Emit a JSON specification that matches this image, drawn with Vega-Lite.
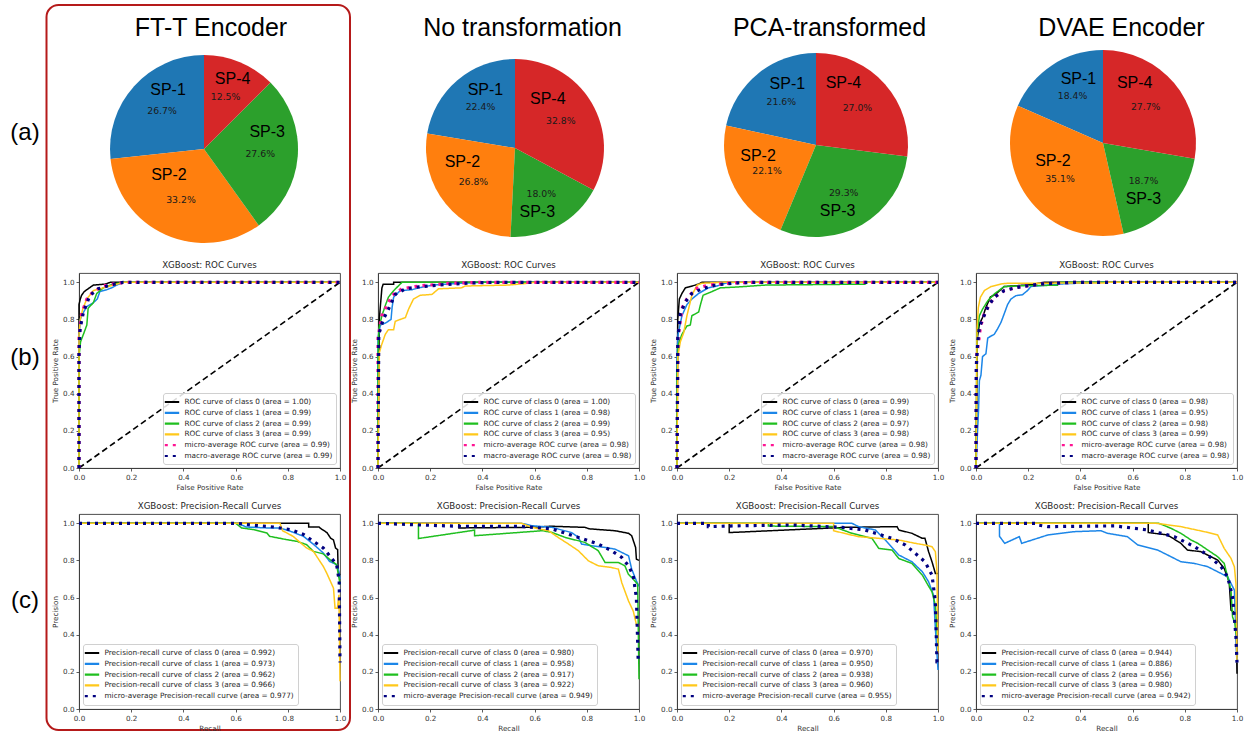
{
"$schema": "https://vega.github.io/schema/vega-lite/v6.json",
"background": "white",
"padding": {"left": 10, "top": 3, "right": 2, "bottom": 0},
"config": {
  "view": {"stroke": "#3a3a3a", "strokeWidth": 0.9},
  "axis": {"grid": false, "labelFont": "DejaVu Sans", "labelFontSize": 7.2, "labelColor": "#333333", "tickColor": "#333333", "tickSize": 3, "tickWidth": 0.8, "labelPadding": 2, "domainColor": "#3a3a3a", "domainWidth": 0.9, "titleFont": "DejaVu Sans", "titleFontSize": 7.2, "titleFontWeight": "normal", "titleColor": "#333333", "titlePadding": 3, "labelFlush": false, "labelOverlap": false},
  "title": {"font": "DejaVu Sans", "fontSize": 8.7, "fontWeight": "normal", "color": "#262626", "offset": 3.5, "baseline": "alphabetic", "frame": "group", "anchor": "middle"},
  "legend": {"labelFont": "DejaVu Sans", "labelFontSize": 7.3, "labelColor": "#262626", "labelLimit": 400, "symbolStrokeWidth": 2.2, "padding": 3.5, "rowPadding": 0.8, "fillColor": "rgba(255,255,255,0.85)", "strokeColor": "#d0d0d0", "cornerRadius": 2.5, "offset": 4}
},
"datasets": {
  "pie1": [{"slice":"SP-1","pct":26.7,"label":"26.7%"},{"slice":"SP-2","pct":33.2,"label":"33.2%"},{"slice":"SP-3","pct":27.6,"label":"27.6%"},{"slice":"SP-4","pct":12.5,"label":"12.5%"}],
  "pie2": [{"slice":"SP-1","pct":22.4,"label":"22.4%"},{"slice":"SP-2","pct":26.8,"label":"26.8%"},{"slice":"SP-3","pct":18.0,"label":"18.0%"},{"slice":"SP-4","pct":32.8,"label":"32.8%"}],
  "pie3": [{"slice":"SP-1","pct":21.6,"label":"21.6%"},{"slice":"SP-2","pct":22.1,"label":"22.1%"},{"slice":"SP-3","pct":29.3,"label":"29.3%"},{"slice":"SP-4","pct":27.0,"label":"27.0%"}],
  "pie4": [{"slice":"SP-1","pct":18.4,"label":"18.4%"},{"slice":"SP-2","pct":35.1,"label":"35.1%"},{"slice":"SP-3","pct":18.7,"label":"18.7%"},{"slice":"SP-4","pct":27.7,"label":"27.7%"}],
  "diag": [{"x":0,"y":0},{"x":1,"y":1}],
  "roc1": [
    {"s":"c0","x":0,"y":0},{"s":"c0","x":0,"y":0.88},{"s":"c0","x":0.005,"y":0.91},{"s":"c0","x":0.01,"y":0.93},{"s":"c0","x":0.02,"y":0.95},{"s":"c0","x":0.03,"y":0.96},{"s":"c0","x":0.045,"y":0.975},{"s":"c0","x":0.055,"y":0.985},{"s":"c0","x":0.1,"y":0.99},{"s":"c0","x":0.12,"y":1},{"s":"c0","x":1,"y":1},
    {"s":"c1","x":0,"y":0},{"s":"c1","x":0,"y":0.7},{"s":"c1","x":0.005,"y":0.8},{"s":"c1","x":0.01,"y":0.82},{"s":"c1","x":0.03,"y":0.87},{"s":"c1","x":0.055,"y":0.89},{"s":"c1","x":0.07,"y":0.91},{"s":"c1","x":0.08,"y":0.95},{"s":"c1","x":0.106,"y":0.96},{"s":"c1","x":0.125,"y":0.97},{"s":"c1","x":0.145,"y":0.985},{"s":"c1","x":0.17,"y":1},{"s":"c1","x":1,"y":1},
    {"s":"c2","x":0,"y":0},{"s":"c2","x":0,"y":0.6},{"s":"c2","x":0.006,"y":0.68},{"s":"c2","x":0.017,"y":0.72},{"s":"c2","x":0.03,"y":0.77},{"s":"c2","x":0.035,"y":0.86},{"s":"c2","x":0.055,"y":0.89},{"s":"c2","x":0.068,"y":0.94},{"s":"c2","x":0.093,"y":0.97},{"s":"c2","x":0.13,"y":0.99},{"s":"c2","x":0.17,"y":1},{"s":"c2","x":1,"y":1},
    {"s":"c3","x":0,"y":0},{"s":"c3","x":0,"y":0.72},{"s":"c3","x":0.005,"y":0.8},{"s":"c3","x":0.015,"y":0.86},{"s":"c3","x":0.03,"y":0.91},{"s":"c3","x":0.055,"y":0.955},{"s":"c3","x":0.093,"y":0.97},{"s":"c3","x":0.145,"y":0.99},{"s":"c3","x":0.17,"y":1},{"s":"c3","x":1,"y":1},
    {"s":"mi","x":0,"y":0},{"s":"mi","x":0,"y":0.7},{"s":"mi","x":0.01,"y":0.83},{"s":"mi","x":0.03,"y":0.91},{"s":"mi","x":0.055,"y":0.95},{"s":"mi","x":0.093,"y":0.98},{"s":"mi","x":0.145,"y":0.995},{"s":"mi","x":0.18,"y":1},{"s":"mi","x":1,"y":1},
    {"s":"ma","x":0,"y":0},{"s":"ma","x":0,"y":0.62},{"s":"ma","x":0.004,"y":0.75},{"s":"ma","x":0.017,"y":0.84},{"s":"ma","x":0.042,"y":0.93},{"s":"ma","x":0.074,"y":0.965},{"s":"ma","x":0.12,"y":0.985},{"s":"ma","x":0.17,"y":1},{"s":"ma","x":1,"y":1}
  ],
  "roc2": [
    {"s":"c0","x":0,"y":0},{"s":"c0","x":0.005,"y":0.8},{"s":"c0","x":0.009,"y":0.87},{"s":"c0","x":0.015,"y":0.97},{"s":"c0","x":0.02,"y":0.99},{"s":"c0","x":0.06,"y":0.99},{"s":"c0","x":0.06,"y":1},{"s":"c0","x":1,"y":1},
    {"s":"c1","x":0,"y":0},{"s":"c1","x":0,"y":0.7},{"s":"c1","x":0.009,"y":0.77},{"s":"c1","x":0.028,"y":0.78},{"s":"c1","x":0.05,"y":0.8},{"s":"c1","x":0.054,"y":0.865},{"s":"c1","x":0.06,"y":0.92},{"s":"c1","x":0.085,"y":0.955},{"s":"c1","x":0.13,"y":0.96},{"s":"c1","x":0.156,"y":0.97},{"s":"c1","x":0.21,"y":0.985},{"s":"c1","x":0.32,"y":0.995},{"s":"c1","x":0.41,"y":1},{"s":"c1","x":1,"y":1},
    {"s":"c2","x":0,"y":0},{"s":"c2","x":0,"y":0.6},{"s":"c2","x":0.003,"y":0.75},{"s":"c2","x":0.015,"y":0.82},{"s":"c2","x":0.028,"y":0.875},{"s":"c2","x":0.04,"y":0.92},{"s":"c2","x":0.06,"y":0.955},{"s":"c2","x":0.092,"y":1},{"s":"c2","x":1,"y":1},
    {"s":"c3","x":0,"y":0},{"s":"c3","x":0.003,"y":0.4},{"s":"c3","x":0.005,"y":0.62},{"s":"c3","x":0.013,"y":0.66},{"s":"c3","x":0.028,"y":0.72},{"s":"c3","x":0.04,"y":0.745},{"s":"c3","x":0.06,"y":0.745},{"s":"c3","x":0.066,"y":0.79},{"s":"c3","x":0.085,"y":0.8},{"s":"c3","x":0.105,"y":0.81},{"s":"c3","x":0.117,"y":0.855},{"s":"c3","x":0.136,"y":0.91},{"s":"c3","x":0.162,"y":0.93},{"s":"c3","x":0.207,"y":0.935},{"s":"c3","x":0.232,"y":0.965},{"s":"c3","x":0.32,"y":0.97},{"s":"c3","x":0.334,"y":0.98},{"s":"c3","x":0.5,"y":0.985},{"s":"c3","x":0.576,"y":0.995},{"s":"c3","x":0.6,"y":1},{"s":"c3","x":1,"y":1},
    {"s":"mi","x":0,"y":0},{"s":"mi","x":0,"y":0.7},{"s":"mi","x":0.015,"y":0.82},{"s":"mi","x":0.034,"y":0.875},{"s":"mi","x":0.054,"y":0.93},{"s":"mi","x":0.092,"y":0.965},{"s":"mi","x":0.156,"y":0.98},{"s":"mi","x":0.283,"y":0.995},{"s":"mi","x":0.4,"y":1},{"s":"mi","x":1,"y":1},
    {"s":"ma","x":0,"y":0},{"s":"ma","x":0.003,"y":0.72},{"s":"ma","x":0.02,"y":0.8},{"s":"ma","x":0.04,"y":0.855},{"s":"ma","x":0.066,"y":0.935},{"s":"ma","x":0.105,"y":0.965},{"s":"ma","x":0.156,"y":0.975},{"s":"ma","x":0.23,"y":0.985},{"s":"ma","x":0.347,"y":0.996},{"s":"ma","x":0.45,"y":1},{"s":"ma","x":1,"y":1}
  ],
  "roc3": [
    {"s":"c0","x":0,"y":0},{"s":"c0","x":0.003,"y":0.8},{"s":"c0","x":0.009,"y":0.91},{"s":"c0","x":0.019,"y":0.94},{"s":"c0","x":0.032,"y":0.97},{"s":"c0","x":0.045,"y":0.975},{"s":"c0","x":0.083,"y":0.99},{"s":"c0","x":0.096,"y":1},{"s":"c0","x":1,"y":1},
    {"s":"c1","x":0,"y":0},{"s":"c1","x":0,"y":0.6},{"s":"c1","x":0.004,"y":0.72},{"s":"c1","x":0.019,"y":0.82},{"s":"c1","x":0.038,"y":0.88},{"s":"c1","x":0.057,"y":0.91},{"s":"c1","x":0.083,"y":0.94},{"s":"c1","x":0.12,"y":0.97},{"s":"c1","x":0.153,"y":0.98},{"s":"c1","x":0.185,"y":0.995},{"s":"c1","x":0.22,"y":1},{"s":"c1","x":1,"y":1},
    {"s":"c2","x":0,"y":0},{"s":"c2","x":0,"y":0.5},{"s":"c2","x":0.004,"y":0.66},{"s":"c2","x":0.019,"y":0.72},{"s":"c2","x":0.038,"y":0.765},{"s":"c2","x":0.051,"y":0.77},{"s":"c2","x":0.057,"y":0.82},{"s":"c2","x":0.083,"y":0.84},{"s":"c2","x":0.09,"y":0.88},{"s":"c2","x":0.1,"y":0.93},{"s":"c2","x":0.134,"y":0.95},{"s":"c2","x":0.166,"y":0.97},{"s":"c2","x":0.236,"y":0.975},{"s":"c2","x":0.338,"y":0.985},{"s":"c2","x":0.72,"y":0.99},{"s":"c2","x":0.73,"y":1},{"s":"c2","x":1,"y":1},
    {"s":"c3","x":0,"y":0},{"s":"c3","x":0.003,"y":0.6},{"s":"c3","x":0.013,"y":0.68},{"s":"c3","x":0.026,"y":0.73},{"s":"c3","x":0.038,"y":0.82},{"s":"c3","x":0.057,"y":0.93},{"s":"c3","x":0.077,"y":0.985},{"s":"c3","x":0.096,"y":0.995},{"s":"c3","x":0.18,"y":1},{"s":"c3","x":1,"y":1},
    {"s":"mi","x":0,"y":0},{"s":"mi","x":0.004,"y":0.7},{"s":"mi","x":0.019,"y":0.86},{"s":"mi","x":0.038,"y":0.91},{"s":"mi","x":0.07,"y":0.965},{"s":"mi","x":0.12,"y":0.985},{"s":"mi","x":0.21,"y":0.996},{"s":"mi","x":0.3,"y":1},{"s":"mi","x":1,"y":1},
    {"s":"ma","x":0,"y":0},{"s":"ma","x":0.003,"y":0.7},{"s":"ma","x":0.013,"y":0.83},{"s":"ma","x":0.032,"y":0.895},{"s":"ma","x":0.057,"y":0.94},{"s":"ma","x":0.096,"y":0.965},{"s":"ma","x":0.147,"y":0.985},{"s":"ma","x":0.22,"y":0.996},{"s":"ma","x":0.3,"y":1},{"s":"ma","x":1,"y":1}
  ],
  "roc4": [
    {"s":"c0","x":0,"y":0},{"s":"c0","x":0.005,"y":0.7},{"s":"c0","x":0.013,"y":0.775},{"s":"c0","x":0.025,"y":0.81},{"s":"c0","x":0.038,"y":0.865},{"s":"c0","x":0.055,"y":0.92},{"s":"c0","x":0.076,"y":0.937},{"s":"c0","x":0.108,"y":0.977},{"s":"c0","x":0.21,"y":0.987},{"s":"c0","x":0.26,"y":1},{"s":"c0","x":1,"y":1},
    {"s":"c1","x":0,"y":0},{"s":"c1","x":0.003,"y":0.1},{"s":"c1","x":0.006,"y":0.2},{"s":"c1","x":0.01,"y":0.32},{"s":"c1","x":0.013,"y":0.47},{"s":"c1","x":0.019,"y":0.5},{"s":"c1","x":0.025,"y":0.6},{"s":"c1","x":0.038,"y":0.615},{"s":"c1","x":0.045,"y":0.7},{"s":"c1","x":0.057,"y":0.71},{"s":"c1","x":0.07,"y":0.72},{"s":"c1","x":0.083,"y":0.75},{"s":"c1","x":0.096,"y":0.785},{"s":"c1","x":0.108,"y":0.83},{"s":"c1","x":0.121,"y":0.88},{"s":"c1","x":0.134,"y":0.91},{"s":"c1","x":0.153,"y":0.928},{"s":"c1","x":0.178,"y":0.933},{"s":"c1","x":0.197,"y":0.955},{"s":"c1","x":0.21,"y":0.977},{"s":"c1","x":0.248,"y":0.982},{"s":"c1","x":0.325,"y":0.991},{"s":"c1","x":0.48,"y":1},{"s":"c1","x":1,"y":1},
    {"s":"c2","x":0,"y":0},{"s":"c2","x":0.004,"y":0.72},{"s":"c2","x":0.013,"y":0.82},{"s":"c2","x":0.025,"y":0.855},{"s":"c2","x":0.045,"y":0.9},{"s":"c2","x":0.07,"y":0.937},{"s":"c2","x":0.108,"y":0.977},{"s":"c2","x":0.185,"y":0.982},{"s":"c2","x":0.312,"y":0.984},{"s":"c2","x":0.32,"y":1},{"s":"c2","x":1,"y":1},
    {"s":"c3","x":0,"y":0},{"s":"c3","x":0.004,"y":0.75},{"s":"c3","x":0.009,"y":0.865},{"s":"c3","x":0.017,"y":0.92},{"s":"c3","x":0.032,"y":0.955},{"s":"c3","x":0.057,"y":0.977},{"s":"c3","x":0.096,"y":0.991},{"s":"c3","x":0.121,"y":0.995},{"s":"c3","x":0.49,"y":0.996},{"s":"c3","x":0.5,"y":1},{"s":"c3","x":1,"y":1},
    {"s":"mi","x":0,"y":0},{"s":"mi","x":0.002,"y":0.6},{"s":"mi","x":0.009,"y":0.667},{"s":"mi","x":0.017,"y":0.76},{"s":"mi","x":0.032,"y":0.83},{"s":"mi","x":0.051,"y":0.88},{"s":"mi","x":0.07,"y":0.92},{"s":"mi","x":0.108,"y":0.955},{"s":"mi","x":0.159,"y":0.973},{"s":"mi","x":0.248,"y":0.991},{"s":"mi","x":0.376,"y":1},{"s":"mi","x":1,"y":1},
    {"s":"ma","x":0,"y":0},{"s":"ma","x":0.001,"y":0.54},{"s":"ma","x":0.006,"y":0.667},{"s":"ma","x":0.013,"y":0.76},{"s":"ma","x":0.025,"y":0.8},{"s":"ma","x":0.045,"y":0.865},{"s":"ma","x":0.07,"y":0.92},{"s":"ma","x":0.108,"y":0.955},{"s":"ma","x":0.159,"y":0.973},{"s":"ma","x":0.248,"y":0.991},{"s":"ma","x":0.376,"y":1},{"s":"ma","x":1,"y":1}
  ],
  "pr1": [
    {"s":"c0","x":0,"y":1},{"s":"c0","x":0.88,"y":1},{"s":"c0","x":0.88,"y":0.98},{"s":"c0","x":0.92,"y":0.98},{"s":"c0","x":0.923,"y":0.975},{"s":"c0","x":0.95,"y":0.95},{"s":"c0","x":0.964,"y":0.92},{"s":"c0","x":0.975,"y":0.91},{"s":"c0","x":0.983,"y":0.867},{"s":"c0","x":0.991,"y":0.858},{"s":"c0","x":0.993,"y":0.74},{"s":"c0","x":1,"y":0.72},
    {"s":"c1","x":0,"y":1},{"s":"c1","x":0.61,"y":1},{"s":"c1","x":0.64,"y":0.98},{"s":"c1","x":0.72,"y":0.975},{"s":"c1","x":0.77,"y":0.975},{"s":"c1","x":0.81,"y":0.957},{"s":"c1","x":0.86,"y":0.93},{"s":"c1","x":0.9,"y":0.885},{"s":"c1","x":0.936,"y":0.84},{"s":"c1","x":0.96,"y":0.795},{"s":"c1","x":0.987,"y":0.777},{"s":"c1","x":0.996,"y":0.74},{"s":"c1","x":1,"y":0.7},
    {"s":"c2","x":0,"y":1},{"s":"c2","x":0.6,"y":1},{"s":"c2","x":0.623,"y":0.975},{"s":"c2","x":0.668,"y":0.966},{"s":"c2","x":0.72,"y":0.948},{"s":"c2","x":0.73,"y":0.93},{"s":"c2","x":0.795,"y":0.912},{"s":"c2","x":0.834,"y":0.903},{"s":"c2","x":0.872,"y":0.885},{"s":"c2","x":0.898,"y":0.849},{"s":"c2","x":0.936,"y":0.835},{"s":"c2","x":0.962,"y":0.804},{"s":"c2","x":0.987,"y":0.777},{"s":"c2","x":0.998,"y":0.69},{"s":"c2","x":1,"y":0.67},
    {"s":"c3","x":0,"y":1},{"s":"c3","x":0.77,"y":1},{"s":"c3","x":0.78,"y":0.96},{"s":"c3","x":0.82,"y":0.93},{"s":"c3","x":0.872,"y":0.867},{"s":"c3","x":0.898,"y":0.849},{"s":"c3","x":0.936,"y":0.768},{"s":"c3","x":0.949,"y":0.732},{"s":"c3","x":0.975,"y":0.651},{"s":"c3","x":0.981,"y":0.543},{"s":"c3","x":0.99,"y":0.543},{"s":"c3","x":0.996,"y":0.615},{"s":"c3","x":1,"y":0.15},
    {"s":"mi","x":0,"y":1},{"s":"mi","x":0.6,"y":1},{"s":"mi","x":0.668,"y":0.99},{"s":"mi","x":0.745,"y":0.98},{"s":"mi","x":0.81,"y":0.966},{"s":"mi","x":0.86,"y":0.94},{"s":"mi","x":0.898,"y":0.903},{"s":"mi","x":0.936,"y":0.867},{"s":"mi","x":0.962,"y":0.822},{"s":"mi","x":0.987,"y":0.777},{"s":"mi","x":0.997,"y":0.69},{"s":"mi","x":1,"y":0.25}
  ],
  "pr2": [
    {"s":"c0","x":0,"y":1},{"s":"c0","x":0.31,"y":1},{"s":"c0","x":0.31,"y":0.975},{"s":"c0","x":0.57,"y":0.978},{"s":"c0","x":0.666,"y":0.984},{"s":"c0","x":0.793,"y":0.978},{"s":"c0","x":0.81,"y":0.97},{"s":"c0","x":0.908,"y":0.96},{"s":"c0","x":0.96,"y":0.946},{"s":"c0","x":0.972,"y":0.933},{"s":"c0","x":0.987,"y":0.87},{"s":"c0","x":0.99,"y":0.807},{"s":"c0","x":1,"y":0.8},
    {"s":"c1","x":0,"y":1},{"s":"c1","x":0.55,"y":1},{"s":"c1","x":0.59,"y":0.987},{"s":"c1","x":0.666,"y":0.978},{"s":"c1","x":0.742,"y":0.95},{"s":"c1","x":0.768,"y":0.924},{"s":"c1","x":0.78,"y":0.888},{"s":"c1","x":0.819,"y":0.879},{"s":"c1","x":0.87,"y":0.87},{"s":"c1","x":0.908,"y":0.861},{"s":"c1","x":0.934,"y":0.843},{"s":"c1","x":0.96,"y":0.825},{"s":"c1","x":0.972,"y":0.753},{"s":"c1","x":0.99,"y":0.69},{"s":"c1","x":1,"y":0.66},
    {"s":"c2","x":0,"y":1},{"s":"c2","x":0.155,"y":1},{"s":"c2","x":0.155,"y":0.918},{"s":"c2","x":0.37,"y":0.963},{"s":"c2","x":0.37,"y":0.933},{"s":"c2","x":0.63,"y":0.96},{"s":"c2","x":0.666,"y":0.951},{"s":"c2","x":0.717,"y":0.924},{"s":"c2","x":0.793,"y":0.897},{"s":"c2","x":0.844,"y":0.852},{"s":"c2","x":0.87,"y":0.789},{"s":"c2","x":0.921,"y":0.789},{"s":"c2","x":0.946,"y":0.771},{"s":"c2","x":0.959,"y":0.726},{"s":"c2","x":0.972,"y":0.708},{"s":"c2","x":0.995,"y":0.671},{"s":"c2","x":1,"y":0.16},
    {"s":"c3","x":0,"y":1},{"s":"c3","x":0.55,"y":1},{"s":"c3","x":0.59,"y":0.978},{"s":"c3","x":0.653,"y":0.96},{"s":"c3","x":0.69,"y":0.924},{"s":"c3","x":0.73,"y":0.888},{"s":"c3","x":0.768,"y":0.852},{"s":"c3","x":0.806,"y":0.798},{"s":"c3","x":0.844,"y":0.771},{"s":"c3","x":0.895,"y":0.762},{"s":"c3","x":0.921,"y":0.753},{"s":"c3","x":0.934,"y":0.68},{"s":"c3","x":0.96,"y":0.581},{"s":"c3","x":0.978,"y":0.527},{"s":"c3","x":0.99,"y":0.455},{"s":"c3","x":1,"y":0.45},
    {"s":"mi","x":0,"y":1},{"s":"mi","x":0.18,"y":0.99},{"s":"mi","x":0.31,"y":0.984},{"s":"mi","x":0.54,"y":0.984},{"s":"mi","x":0.666,"y":0.97},{"s":"mi","x":0.768,"y":0.924},{"s":"mi","x":0.844,"y":0.888},{"s":"mi","x":0.895,"y":0.852},{"s":"mi","x":0.934,"y":0.816},{"s":"mi","x":0.96,"y":0.771},{"s":"mi","x":0.978,"y":0.717},{"s":"mi","x":0.99,"y":0.6},{"s":"mi","x":0.997,"y":0.256},{"s":"mi","x":1,"y":0.25}
  ],
  "pr3": [
    {"s":"c0","x":0,"y":1},{"s":"c0","x":0.2,"y":1},{"s":"c0","x":0.2,"y":0.95},{"s":"c0","x":0.645,"y":0.978},{"s":"c0","x":0.843,"y":0.982},{"s":"c0","x":0.85,"y":0.964},{"s":"c0","x":0.9,"y":0.946},{"s":"c0","x":0.94,"y":0.919},{"s":"c0","x":0.95,"y":0.919},{"s":"c0","x":0.964,"y":0.847},{"s":"c0","x":0.977,"y":0.793},{"s":"c0","x":0.99,"y":0.73},{"s":"c0","x":1,"y":0.73},
    {"s":"c1","x":0,"y":1},{"s":"c1","x":0.67,"y":1},{"s":"c1","x":0.696,"y":0.982},{"s":"c1","x":0.76,"y":0.964},{"s":"c1","x":0.798,"y":0.91},{"s":"c1","x":0.85,"y":0.829},{"s":"c1","x":0.9,"y":0.793},{"s":"c1","x":0.94,"y":0.739},{"s":"c1","x":0.964,"y":0.685},{"s":"c1","x":0.983,"y":0.613},{"s":"c1","x":0.99,"y":0.433},{"s":"c1","x":1,"y":0.21},
    {"s":"c2","x":0,"y":1},{"s":"c2","x":0.35,"y":1},{"s":"c2","x":0.35,"y":0.985},{"s":"c2","x":0.6,"y":0.982},{"s":"c2","x":0.67,"y":0.946},{"s":"c2","x":0.747,"y":0.919},{"s":"c2","x":0.773,"y":0.865},{"s":"c2","x":0.824,"y":0.856},{"s":"c2","x":0.85,"y":0.81},{"s":"c2","x":0.9,"y":0.784},{"s":"c2","x":0.94,"y":0.721},{"s":"c2","x":0.958,"y":0.676},{"s":"c2","x":0.977,"y":0.631},{"s":"c2","x":0.99,"y":0.559},{"s":"c2","x":1,"y":0.34},
    {"s":"c3","x":0,"y":1},{"s":"c3","x":0.6,"y":1},{"s":"c3","x":0.6,"y":0.96},{"s":"c3","x":0.658,"y":0.94},{"s":"c3","x":0.696,"y":0.928},{"s":"c3","x":0.773,"y":0.919},{"s":"c3","x":0.85,"y":0.91},{"s":"c3","x":0.913,"y":0.892},{"s":"c3","x":0.95,"y":0.883},{"s":"c3","x":0.977,"y":0.874},{"s":"c3","x":0.99,"y":0.847},{"s":"c3","x":0.996,"y":0.739},{"s":"c3","x":1,"y":0.3},
    {"s":"mi","x":0,"y":1},{"s":"mi","x":0.12,"y":1},{"s":"mi","x":0.12,"y":0.982},{"s":"mi","x":0.25,"y":0.987},{"s":"mi","x":0.44,"y":0.991},{"s":"mi","x":0.632,"y":0.978},{"s":"mi","x":0.72,"y":0.964},{"s":"mi","x":0.824,"y":0.919},{"s":"mi","x":0.875,"y":0.883},{"s":"mi","x":0.913,"y":0.838},{"s":"mi","x":0.95,"y":0.793},{"s":"mi","x":0.977,"y":0.721},{"s":"mi","x":0.99,"y":0.577},{"s":"mi","x":0.996,"y":0.252},{"s":"mi","x":1,"y":0.25}
  ],
  "pr4": [
    {"s":"c0","x":0,"y":1},{"s":"c0","x":0.66,"y":1},{"s":"c0","x":0.66,"y":0.95},{"s":"c0","x":0.734,"y":0.937},{"s":"c0","x":0.785,"y":0.892},{"s":"c0","x":0.81,"y":0.856},{"s":"c0","x":0.862,"y":0.847},{"s":"c0","x":0.9,"y":0.82},{"s":"c0","x":0.926,"y":0.802},{"s":"c0","x":0.951,"y":0.757},{"s":"c0","x":0.97,"y":0.685},{"s":"c0","x":0.977,"y":0.532},{"s":"c0","x":0.996,"y":0.514},{"s":"c0","x":1,"y":0.19},
    {"s":"c1","x":0,"y":1},{"s":"c1","x":0.09,"y":1},{"s":"c1","x":0.09,"y":0.93},{"s":"c1","x":0.11,"y":0.892},{"s":"c1","x":0.166,"y":0.928},{"s":"c1","x":0.175,"y":0.892},{"s":"c1","x":0.275,"y":0.937},{"s":"c1","x":0.377,"y":0.955},{"s":"c1","x":0.479,"y":0.96},{"s":"c1","x":0.504,"y":0.946},{"s":"c1","x":0.58,"y":0.928},{"s":"c1","x":0.62,"y":0.883},{"s":"c1","x":0.696,"y":0.856},{"s":"c1","x":0.747,"y":0.82},{"s":"c1","x":0.785,"y":0.793},{"s":"c1","x":0.837,"y":0.784},{"s":"c1","x":0.888,"y":0.766},{"s":"c1","x":0.926,"y":0.739},{"s":"c1","x":0.964,"y":0.712},{"s":"c1","x":0.977,"y":0.676},{"s":"c1","x":0.99,"y":0.64},{"s":"c1","x":1,"y":0.25},
    {"s":"c2","x":0,"y":1},{"s":"c2","x":0.7,"y":1},{"s":"c2","x":0.747,"y":0.973},{"s":"c2","x":0.785,"y":0.946},{"s":"c2","x":0.824,"y":0.91},{"s":"c2","x":0.85,"y":0.892},{"s":"c2","x":0.888,"y":0.856},{"s":"c2","x":0.926,"y":0.82},{"s":"c2","x":0.951,"y":0.784},{"s":"c2","x":0.964,"y":0.712},{"s":"c2","x":0.977,"y":0.64},{"s":"c2","x":0.983,"y":0.496},{"s":"c2","x":0.992,"y":0.46},{"s":"c2","x":0.996,"y":0.406},{"s":"c2","x":1,"y":0.4},
    {"s":"c3","x":0,"y":1},{"s":"c3","x":0.69,"y":1},{"s":"c3","x":0.785,"y":0.982},{"s":"c3","x":0.875,"y":0.955},{"s":"c3","x":0.926,"y":0.937},{"s":"c3","x":0.951,"y":0.865},{"s":"c3","x":0.977,"y":0.811},{"s":"c3","x":0.99,"y":0.766},{"s":"c3","x":0.996,"y":0.676},{"s":"c3","x":1,"y":0.25},
    {"s":"mi","x":0,"y":1},{"s":"mi","x":0.23,"y":1},{"s":"mi","x":0.236,"y":0.991},{"s":"mi","x":0.275,"y":0.982},{"s":"mi","x":0.53,"y":0.986},{"s":"mi","x":0.607,"y":0.973},{"s":"mi","x":0.658,"y":0.964},{"s":"mi","x":0.76,"y":0.928},{"s":"mi","x":0.837,"y":0.874},{"s":"mi","x":0.888,"y":0.829},{"s":"mi","x":0.939,"y":0.766},{"s":"mi","x":0.964,"y":0.712},{"s":"mi","x":0.983,"y":0.604},{"s":"mi","x":0.996,"y":0.388},{"s":"mi","x":1,"y":0.25}
  ]
},
"columns": 4,
"spacing": {"row": 46, "column": 38},
"bounds": "flush",
"align": "none",
"resolve": {"scale": {"color": "independent", "strokeDash": "independent"}, "legend": {"color": "independent", "strokeDash": "independent"}},
"concat": [
  {
    "width": 261, "height": 158, "view": {"stroke": null},
    "layer": [
      {"data": {"name": "pie1"}, "mark": {"type": "arc", "outerRadius": 94},
       "encoding": {"x": {"datum": 0.47893, "type": "quantitative", "scale": {"domain": [0, 1]}, "axis": {"orient": "top", "title": "FT-T Encoder", "domain": false, "ticks": false, "labels": false, "grid": false, "titleFont": "Liberation Sans", "titleFontSize": 25, "titleFontWeight": "normal", "titleColor": "black", "titleBaseline": "alphabetic", "titleX": 131.5, "titleY": -34}}, "y": {"datum": 0.49367, "type": "quantitative", "scale": {"domain": [0, 1]}, "axis": null},
         "theta": {"field": "pct", "type": "quantitative", "stack": true}, "order": {"field": "slice", "sort": "descending"},
         "color": {"field": "slice", "type": "nominal", "scale": {"domain": ["SP-1","SP-2","SP-3","SP-4"], "range": ["#1f77b4","#ff7f0e","#2ca02c","#d62728"]}, "legend": null}}},
      {"data": {"name": "pie1"}, "mark": {"type": "text", "radius": 56.4, "font": "DejaVu Sans", "fontSize": 9.3, "color": "#1a1a1a"},
       "encoding": {"x": {"datum": 0.47893, "type": "quantitative", "scale": {"domain": [0, 1]}, "axis": {"orient": "top", "title": "FT-T Encoder", "domain": false, "ticks": false, "labels": false, "grid": false, "titleFont": "Liberation Sans", "titleFontSize": 25, "titleFontWeight": "normal", "titleColor": "black", "titleBaseline": "alphabetic", "titleX": 131.5, "titleY": -34}}, "y": {"datum": 0.49367, "type": "quantitative", "scale": {"domain": [0, 1]}, "axis": null},
         "theta": {"field": "pct", "type": "quantitative", "stack": true}, "order": {"field": "slice", "sort": "descending"}, "text": {"field": "label", "type": "nominal"}}},
      {"data": {"name": "pie1"}, "mark": {"type": "text", "radius": 56.4, "dx": 6, "dy": -21, "font": "Liberation Sans", "fontSize": 16, "color": "black"},
       "encoding": {"x": {"datum": 0.47893, "type": "quantitative", "scale": {"domain": [0, 1]}, "axis": {"orient": "top", "title": "FT-T Encoder", "domain": false, "ticks": false, "labels": false, "grid": false, "titleFont": "Liberation Sans", "titleFontSize": 25, "titleFontWeight": "normal", "titleColor": "black", "titleBaseline": "alphabetic", "titleX": 131.5, "titleY": -34}}, "y": {"datum": 0.49367, "type": "quantitative", "scale": {"domain": [0, 1]}, "axis": null},
         "theta": {"field": "pct", "type": "quantitative", "stack": true}, "order": {"field": "slice", "sort": "descending"}, "text": {"condition": {"test": "datum.slice === 'SP-1'", "field": "slice", "type": "nominal"}, "value": ""}}},
      {"data": {"name": "pie1"}, "mark": {"type": "text", "radius": 56.4, "dx": -12, "dy": -25, "font": "Liberation Sans", "fontSize": 16, "color": "black"},
       "encoding": {"x": {"datum": 0.47893, "type": "quantitative", "scale": {"domain": [0, 1]}, "axis": {"orient": "top", "title": "FT-T Encoder", "domain": false, "ticks": false, "labels": false, "grid": false, "titleFont": "Liberation Sans", "titleFontSize": 25, "titleFontWeight": "normal", "titleColor": "black", "titleBaseline": "alphabetic", "titleX": 131.5, "titleY": -34}}, "y": {"datum": 0.49367, "type": "quantitative", "scale": {"domain": [0, 1]}, "axis": null},
         "theta": {"field": "pct", "type": "quantitative", "stack": true}, "order": {"field": "slice", "sort": "descending"}, "text": {"condition": {"test": "datum.slice === 'SP-2'", "field": "slice", "type": "nominal"}, "value": ""}}},
      {"data": {"name": "pie1"}, "mark": {"type": "text", "radius": 56.4, "dx": 7, "dy": -22, "font": "Liberation Sans", "fontSize": 16, "color": "black"},
       "encoding": {"x": {"datum": 0.47893, "type": "quantitative", "scale": {"domain": [0, 1]}, "axis": {"orient": "top", "title": "FT-T Encoder", "domain": false, "ticks": false, "labels": false, "grid": false, "titleFont": "Liberation Sans", "titleFontSize": 25, "titleFontWeight": "normal", "titleColor": "black", "titleBaseline": "alphabetic", "titleX": 131.5, "titleY": -34}}, "y": {"datum": 0.49367, "type": "quantitative", "scale": {"domain": [0, 1]}, "axis": null},
         "theta": {"field": "pct", "type": "quantitative", "stack": true}, "order": {"field": "slice", "sort": "descending"}, "text": {"condition": {"test": "datum.slice === 'SP-3'", "field": "slice", "type": "nominal"}, "value": ""}}},
      {"data": {"name": "pie1"}, "mark": {"type": "text", "radius": 56.4, "dx": 7, "dy": -18, "font": "Liberation Sans", "fontSize": 16, "color": "black"},
       "encoding": {"x": {"datum": 0.47893, "type": "quantitative", "scale": {"domain": [0, 1]}, "axis": {"orient": "top", "title": "FT-T Encoder", "domain": false, "ticks": false, "labels": false, "grid": false, "titleFont": "Liberation Sans", "titleFontSize": 25, "titleFontWeight": "normal", "titleColor": "black", "titleBaseline": "alphabetic", "titleX": 131.5, "titleY": -34}}, "y": {"datum": 0.49367, "type": "quantitative", "scale": {"domain": [0, 1]}, "axis": null},
         "theta": {"field": "pct", "type": "quantitative", "stack": true}, "order": {"field": "slice", "sort": "descending"}, "text": {"condition": {"test": "datum.slice === 'SP-4'", "field": "slice", "type": "nominal"}, "value": ""}}},
      {"data": {"values": [{}]}, "mark": {"type": "rect", "filled": false, "color": "#b51a1a", "strokeWidth": 2, "cornerRadius": 12},
       "encoding": {
         "x": {"datum": -0.12452, "type": "quantitative", "scale": {"domain": [0, 1]}, "axis": {"orient": "top", "title": "FT-T Encoder", "domain": false, "ticks": false, "labels": false, "grid": false, "titleFont": "Liberation Sans", "titleFontSize": 25, "titleFontWeight": "normal", "titleColor": "black", "titleBaseline": "alphabetic", "titleX": 131.5, "titleY": -34}},
         "x2": {"datum": 1.03831},
         "y": {"datum": 1.4051, "type": "quantitative", "scale": {"domain": [0, 1]}, "axis": null},
         "y2": {"datum": -3.1835}}},
      {"data": {"values": [{}]}, "mark": {"type": "text", "text": "(a)", "font": "Liberation Sans", "fontSize": 24, "color": "black", "baseline": "middle", "align": "center"},
       "encoding": {"x": {"datum": -0.2069, "type": "quantitative", "scale": {"domain": [0, 1]}, "axis": {"orient": "top", "title": "FT-T Encoder", "domain": false, "ticks": false, "labels": false, "grid": false, "titleFont": "Liberation Sans", "titleFontSize": 25, "titleFontWeight": "normal", "titleColor": "black", "titleBaseline": "alphabetic", "titleX": 131.5, "titleY": -34}}, "y": {"datum": 0.5949, "type": "quantitative", "scale": {"domain": [0, 1]}, "axis": null}}},
      {"data": {"values": [{}]}, "mark": {"type": "text", "text": "(b)", "font": "Liberation Sans", "fontSize": 24, "color": "black", "baseline": "middle", "align": "center"},
       "encoding": {"x": {"datum": -0.2069, "type": "quantitative", "scale": {"domain": [0, 1]}, "axis": {"orient": "top", "title": "FT-T Encoder", "domain": false, "ticks": false, "labels": false, "grid": false, "titleFont": "Liberation Sans", "titleFontSize": 25, "titleFontWeight": "normal", "titleColor": "black", "titleBaseline": "alphabetic", "titleX": 131.5, "titleY": -34}}, "y": {"datum": -0.8291, "type": "quantitative", "scale": {"domain": [0, 1]}, "axis": null}}},
      {"data": {"values": [{}]}, "mark": {"type": "text", "text": "(c)", "font": "Liberation Sans", "fontSize": 24, "color": "black", "baseline": "middle", "align": "center"},
       "encoding": {"x": {"datum": -0.2069, "type": "quantitative", "scale": {"domain": [0, 1]}, "axis": {"orient": "top", "title": "FT-T Encoder", "domain": false, "ticks": false, "labels": false, "grid": false, "titleFont": "Liberation Sans", "titleFontSize": 25, "titleFontWeight": "normal", "titleColor": "black", "titleBaseline": "alphabetic", "titleX": 131.5, "titleY": -34}}, "y": {"datum": -2.3671, "type": "quantitative", "scale": {"domain": [0, 1]}, "axis": null}}}
    ]
  },
  {
    "width": 261, "height": 158, "view": {"stroke": null},
    "data": {"name": "pie2"},
    "encoding": {
      "x": {"datum": 0.5249, "type": "quantitative", "scale": {"domain": [0, 1]}, "axis": {"orient": "top", "title": "No transformation", "domain": false, "ticks": false, "labels": false, "grid": false, "titleFont": "Liberation Sans", "titleFontSize": 25, "titleFontWeight": "normal", "titleColor": "black", "titleBaseline": "alphabetic", "titleX": 144, "titleY": -34}},
      "y": {"datum": 0.5, "type": "quantitative", "scale": {"domain": [0, 1]}, "axis": null},
      "theta": {"field": "pct", "type": "quantitative", "stack": true},
      "order": {"field": "slice", "sort": "descending"}
    },
    "layer": [
      {"mark": {"type": "arc", "outerRadius": 89},
       "encoding": {"color": {"field": "slice", "type": "nominal", "scale": {"domain": ["SP-1","SP-2","SP-3","SP-4"], "range": ["#1f77b4","#ff7f0e","#2ca02c","#d62728"]}, "legend": null}}},
      {"mark": {"type": "text", "radius": 53.4, "font": "DejaVu Sans", "fontSize": 9.3, "color": "#1a1a1a"}, "encoding": {"text": {"field": "label", "type": "nominal"}}},
      {"mark": {"type": "text", "radius": 53.4, "dx": 5, "dy": -17, "font": "Liberation Sans", "fontSize": 16, "color": "black"}, "encoding": {"text": {"condition": {"test": "datum.slice === 'SP-1'", "field": "slice", "type": "nominal"}, "value": ""}}},
      {"mark": {"type": "text", "radius": 53.4, "dx": -11, "dy": -20, "font": "Liberation Sans", "fontSize": 16, "color": "black"}, "encoding": {"text": {"condition": {"test": "datum.slice === 'SP-2'", "field": "slice", "type": "nominal"}, "value": ""}}},
      {"mark": {"type": "text", "radius": 53.4, "dx": -4, "dy": 18, "font": "Liberation Sans", "fontSize": 16, "color": "black"}, "encoding": {"text": {"condition": {"test": "datum.slice === 'SP-3'", "field": "slice", "type": "nominal"}, "value": ""}}},
      {"mark": {"type": "text", "radius": 53.4, "dx": -13, "dy": -22, "font": "Liberation Sans", "fontSize": 16, "color": "black"}, "encoding": {"text": {"condition": {"test": "datum.slice === 'SP-4'", "field": "slice", "type": "nominal"}, "value": ""}}}
    ]
  },
  {
    "width": 261, "height": 158, "view": {"stroke": null},
    "data": {"name": "pie3"},
    "encoding": {
      "x": {"datum": 0.53257, "type": "quantitative", "scale": {"domain": [0, 1]}, "axis": {"orient": "top", "title": "PCA-transformed", "domain": false, "ticks": false, "labels": false, "grid": false, "titleFont": "Liberation Sans", "titleFontSize": 25, "titleFontWeight": "normal", "titleColor": "black", "titleBaseline": "alphabetic", "titleX": 152, "titleY": -34}},
      "y": {"datum": 0.51899, "type": "quantitative", "scale": {"domain": [0, 1]}, "axis": null},
      "theta": {"field": "pct", "type": "quantitative", "stack": true},
      "order": {"field": "slice", "sort": "descending"}
    },
    "layer": [
      {"mark": {"type": "arc", "outerRadius": 92},
       "encoding": {"color": {"field": "slice", "type": "nominal", "scale": {"domain": ["SP-1","SP-2","SP-3","SP-4"], "range": ["#1f77b4","#ff7f0e","#2ca02c","#d62728"]}, "legend": null}}},
      {"mark": {"type": "text", "radius": 55.2, "font": "DejaVu Sans", "fontSize": 9.3, "color": "#1a1a1a"}, "encoding": {"text": {"field": "label", "type": "nominal"}}},
      {"mark": {"type": "text", "radius": 55.2, "dx": 6, "dy": -18, "font": "Liberation Sans", "fontSize": 16, "color": "black"}, "encoding": {"text": {"condition": {"test": "datum.slice === 'SP-1'", "field": "slice", "type": "nominal"}, "value": ""}}},
      {"mark": {"type": "text", "radius": 55.2, "dx": -9, "dy": -15, "font": "Liberation Sans", "fontSize": 16, "color": "black"}, "encoding": {"text": {"condition": {"test": "datum.slice === 'SP-2'", "field": "slice", "type": "nominal"}, "value": ""}}},
      {"mark": {"type": "text", "radius": 55.2, "dx": -6, "dy": 18, "font": "Liberation Sans", "fontSize": 16, "color": "black"}, "encoding": {"text": {"condition": {"test": "datum.slice === 'SP-3'", "field": "slice", "type": "nominal"}, "value": ""}}},
      {"mark": {"type": "text", "radius": 55.2, "dx": -14, "dy": -25, "font": "Liberation Sans", "fontSize": 16, "color": "black"}, "encoding": {"text": {"condition": {"test": "datum.slice === 'SP-4'", "field": "slice", "type": "nominal"}, "value": ""}}}
    ]
  },
  {
    "width": 261, "height": 158, "view": {"stroke": null},
    "data": {"name": "pie4"},
    "encoding": {
      "x": {"datum": 0.48659, "type": "quantitative", "scale": {"domain": [0, 1]}, "axis": {"orient": "top", "title": "DVAE Encoder", "domain": false, "ticks": false, "labels": false, "grid": false, "titleFont": "Liberation Sans", "titleFontSize": 25, "titleFontWeight": "normal", "titleColor": "black", "titleBaseline": "alphabetic", "titleX": 145, "titleY": -34}},
      "y": {"datum": 0.53165, "type": "quantitative", "scale": {"domain": [0, 1]}, "axis": null},
      "theta": {"field": "pct", "type": "quantitative", "stack": true},
      "order": {"field": "slice", "sort": "descending"}
    },
    "layer": [
      {"mark": {"type": "arc", "outerRadius": 93},
       "encoding": {"color": {"field": "slice", "type": "nominal", "scale": {"domain": ["SP-1","SP-2","SP-3","SP-4"], "range": ["#1f77b4","#ff7f0e","#2ca02c","#d62728"]}, "legend": null}}},
      {"mark": {"type": "text", "radius": 55.8, "font": "DejaVu Sans", "fontSize": 9.3, "color": "#1a1a1a"}, "encoding": {"text": {"field": "label", "type": "nominal"}}},
      {"mark": {"type": "text", "radius": 55.8, "dx": 6, "dy": -17, "font": "Liberation Sans", "fontSize": 16, "color": "black"}, "encoding": {"text": {"condition": {"test": "datum.slice === 'SP-1'", "field": "slice", "type": "nominal"}, "value": ""}}},
      {"mark": {"type": "text", "radius": 55.8, "dx": -7, "dy": -18, "font": "Liberation Sans", "fontSize": 16, "color": "black"}, "encoding": {"text": {"condition": {"test": "datum.slice === 'SP-2'", "field": "slice", "type": "nominal"}, "value": ""}}},
      {"mark": {"type": "text", "radius": 55.8, "dx": 0, "dy": 18, "font": "Liberation Sans", "fontSize": 16, "color": "black"}, "encoding": {"text": {"condition": {"test": "datum.slice === 'SP-3'", "field": "slice", "type": "nominal"}, "value": ""}}},
      {"mark": {"type": "text", "radius": 55.8, "dx": -11, "dy": -24, "font": "Liberation Sans", "fontSize": 16, "color": "black"}, "encoding": {"text": {"condition": {"test": "datum.slice === 'SP-4'", "field": "slice", "type": "nominal"}, "value": ""}}}
    ]
  },
  {
    "width": 261, "height": 195, "title": {"text": "XGBoost: ROC Curves"},
    "encoding": {
      "x": {"field": "x", "type": "quantitative", "scale": {"domain": [0, 1]}, "axis": {"title": "False Positive Rate", "values": [0,0.2,0.4,0.6,0.8,1], "format": ".1f"}},
      "y": {"field": "y", "type": "quantitative", "scale": {"domain": [0, 1.05]}, "axis": {"title": "True Positive Rate", "values": [0,0.2,0.4,0.6,0.8,1], "format": ".1f"}},
      "color": {"field": "s", "type": "nominal", "scale": {"domain": ["c0","c1","c2","c3","mi","ma"], "range": ["#000000","#1c86e8","#1fbf1f","#ffc81a","#ff1493","#000080"]},
        "legend": {"title": null, "orient": "bottom-right", "symbolType": "M-1.8,0H1.8", "symbolSize": 64, "labelOffset": 7, "labelExpr": "datum.value === 'c0' ? 'ROC curve of class 0 (area = 1.00)' : datum.value === 'c1' ? 'ROC curve of class 1 (area = 0.99)' : datum.value === 'c2' ? 'ROC curve of class 2 (area = 0.99)' : datum.value === 'c3' ? 'ROC curve of class 3 (area = 0.99)' : datum.value === 'mi' ? 'micro-average ROC curve (area = 0.99)' : 'macro-average ROC curve (area = 0.99)'"}},
      "strokeDash": {"field": "s", "type": "nominal", "scale": {"domain": ["c0","c1","c2","c3","mi","ma"], "range": [[1,0],[1,0],[1,0],[1,0],[3,5],[3,5]]},
        "legend": {"title": null, "orient": "bottom-right", "symbolType": "M-1.8,0H1.8", "symbolSize": 64, "labelOffset": 7, "labelExpr": "datum.value === 'c0' ? 'ROC curve of class 0 (area = 1.00)' : datum.value === 'c1' ? 'ROC curve of class 1 (area = 0.99)' : datum.value === 'c2' ? 'ROC curve of class 2 (area = 0.99)' : datum.value === 'c3' ? 'ROC curve of class 3 (area = 0.99)' : datum.value === 'mi' ? 'micro-average ROC curve (area = 0.99)' : 'macro-average ROC curve (area = 0.99)'"}},
      "order": {"value": null}
    },
    "layer": [
      {"data": {"name": "diag"}, "mark": {"type": "line", "strokeWidth": 1.6}, "encoding": {"color": {"value": "black"}, "strokeDash": {"value": [6, 3.5]}}},
      {"data": {"name": "roc1"}, "transform": [{"filter": {"field": "s", "oneOf": ["c0","c1","c2","c3"]}}], "mark": {"type": "line", "strokeWidth": 1.5}, "encoding": {}},
      {"data": {"name": "roc1"}, "transform": [{"filter": {"field": "s", "oneOf": ["mi","ma"]}}], "mark": {"type": "line", "strokeWidth": 3.2}, "encoding": {}}
    ]
  },
  {
    "width": 261, "height": 195, "title": {"text": "XGBoost: ROC Curves"},
    "encoding": {
      "x": {"field": "x", "type": "quantitative", "scale": {"domain": [0, 1]}, "axis": {"title": "False Positive Rate", "values": [0,0.2,0.4,0.6,0.8,1], "format": ".1f"}},
      "y": {"field": "y", "type": "quantitative", "scale": {"domain": [0, 1.05]}, "axis": {"title": "True Positive Rate", "values": [0,0.2,0.4,0.6,0.8,1], "format": ".1f"}},
      "color": {"field": "s", "type": "nominal", "scale": {"domain": ["c0","c1","c2","c3","mi","ma"], "range": ["#000000","#1c86e8","#1fbf1f","#ffc81a","#ff1493","#000080"]},
        "legend": {"title": null, "orient": "bottom-right", "symbolType": "M-1.8,0H1.8", "symbolSize": 64, "labelOffset": 7, "labelExpr": "datum.value === 'c0' ? 'ROC curve of class 0 (area = 1.00)' : datum.value === 'c1' ? 'ROC curve of class 1 (area = 0.98)' : datum.value === 'c2' ? 'ROC curve of class 2 (area = 0.99)' : datum.value === 'c3' ? 'ROC curve of class 3 (area = 0.95)' : datum.value === 'mi' ? 'micro-average ROC curve (area = 0.98)' : 'macro-average ROC curve (area = 0.98)'"}},
      "strokeDash": {"field": "s", "type": "nominal", "scale": {"domain": ["c0","c1","c2","c3","mi","ma"], "range": [[1,0],[1,0],[1,0],[1,0],[3,5],[3,5]]},
        "legend": {"title": null, "orient": "bottom-right", "symbolType": "M-1.8,0H1.8", "symbolSize": 64, "labelOffset": 7, "labelExpr": "datum.value === 'c0' ? 'ROC curve of class 0 (area = 1.00)' : datum.value === 'c1' ? 'ROC curve of class 1 (area = 0.98)' : datum.value === 'c2' ? 'ROC curve of class 2 (area = 0.99)' : datum.value === 'c3' ? 'ROC curve of class 3 (area = 0.95)' : datum.value === 'mi' ? 'micro-average ROC curve (area = 0.98)' : 'macro-average ROC curve (area = 0.98)'"}},
      "order": {"value": null}
    },
    "layer": [
      {"data": {"name": "diag"}, "mark": {"type": "line", "strokeWidth": 1.6}, "encoding": {"color": {"value": "black"}, "strokeDash": {"value": [6, 3.5]}}},
      {"data": {"name": "roc2"}, "transform": [{"filter": {"field": "s", "oneOf": ["c0","c1","c2","c3"]}}], "mark": {"type": "line", "strokeWidth": 1.5}, "encoding": {}},
      {"data": {"name": "roc2"}, "transform": [{"filter": {"field": "s", "oneOf": ["mi","ma"]}}], "mark": {"type": "line", "strokeWidth": 3.2}, "encoding": {}}
    ]
  },
  {
    "width": 261, "height": 195, "title": {"text": "XGBoost: ROC Curves"},
    "encoding": {
      "x": {"field": "x", "type": "quantitative", "scale": {"domain": [0, 1]}, "axis": {"title": "False Positive Rate", "values": [0,0.2,0.4,0.6,0.8,1], "format": ".1f"}},
      "y": {"field": "y", "type": "quantitative", "scale": {"domain": [0, 1.05]}, "axis": {"title": "True Positive Rate", "values": [0,0.2,0.4,0.6,0.8,1], "format": ".1f"}},
      "color": {"field": "s", "type": "nominal", "scale": {"domain": ["c0","c1","c2","c3","mi","ma"], "range": ["#000000","#1c86e8","#1fbf1f","#ffc81a","#ff1493","#000080"]},
        "legend": {"title": null, "orient": "bottom-right", "symbolType": "M-1.8,0H1.8", "symbolSize": 64, "labelOffset": 7, "labelExpr": "datum.value === 'c0' ? 'ROC curve of class 0 (area = 0.99)' : datum.value === 'c1' ? 'ROC curve of class 1 (area = 0.98)' : datum.value === 'c2' ? 'ROC curve of class 2 (area = 0.97)' : datum.value === 'c3' ? 'ROC curve of class 3 (area = 0.98)' : datum.value === 'mi' ? 'micro-average ROC curve (area = 0.98)' : 'macro-average ROC curve (area = 0.98)'"}},
      "strokeDash": {"field": "s", "type": "nominal", "scale": {"domain": ["c0","c1","c2","c3","mi","ma"], "range": [[1,0],[1,0],[1,0],[1,0],[3,5],[3,5]]},
        "legend": {"title": null, "orient": "bottom-right", "symbolType": "M-1.8,0H1.8", "symbolSize": 64, "labelOffset": 7, "labelExpr": "datum.value === 'c0' ? 'ROC curve of class 0 (area = 0.99)' : datum.value === 'c1' ? 'ROC curve of class 1 (area = 0.98)' : datum.value === 'c2' ? 'ROC curve of class 2 (area = 0.97)' : datum.value === 'c3' ? 'ROC curve of class 3 (area = 0.98)' : datum.value === 'mi' ? 'micro-average ROC curve (area = 0.98)' : 'macro-average ROC curve (area = 0.98)'"}},
      "order": {"value": null}
    },
    "layer": [
      {"data": {"name": "diag"}, "mark": {"type": "line", "strokeWidth": 1.6}, "encoding": {"color": {"value": "black"}, "strokeDash": {"value": [6, 3.5]}}},
      {"data": {"name": "roc3"}, "transform": [{"filter": {"field": "s", "oneOf": ["c0","c1","c2","c3"]}}], "mark": {"type": "line", "strokeWidth": 1.5}, "encoding": {}},
      {"data": {"name": "roc3"}, "transform": [{"filter": {"field": "s", "oneOf": ["mi","ma"]}}], "mark": {"type": "line", "strokeWidth": 3.2}, "encoding": {}}
    ]
  },
  {
    "width": 261, "height": 195, "title": {"text": "XGBoost: ROC Curves"},
    "encoding": {
      "x": {"field": "x", "type": "quantitative", "scale": {"domain": [0, 1]}, "axis": {"title": "False Positive Rate", "values": [0,0.2,0.4,0.6,0.8,1], "format": ".1f"}},
      "y": {"field": "y", "type": "quantitative", "scale": {"domain": [0, 1.05]}, "axis": {"title": "True Positive Rate", "values": [0,0.2,0.4,0.6,0.8,1], "format": ".1f"}},
      "color": {"field": "s", "type": "nominal", "scale": {"domain": ["c0","c1","c2","c3","mi","ma"], "range": ["#000000","#1c86e8","#1fbf1f","#ffc81a","#ff1493","#000080"]},
        "legend": {"title": null, "orient": "bottom-right", "symbolType": "M-1.8,0H1.8", "symbolSize": 64, "labelOffset": 7, "labelExpr": "datum.value === 'c0' ? 'ROC curve of class 0 (area = 0.98)' : datum.value === 'c1' ? 'ROC curve of class 1 (area = 0.95)' : datum.value === 'c2' ? 'ROC curve of class 2 (area = 0.98)' : datum.value === 'c3' ? 'ROC curve of class 3 (area = 0.99)' : datum.value === 'mi' ? 'micro-average ROC curve (area = 0.98)' : 'macro-average ROC curve (area = 0.98)'"}},
      "strokeDash": {"field": "s", "type": "nominal", "scale": {"domain": ["c0","c1","c2","c3","mi","ma"], "range": [[1,0],[1,0],[1,0],[1,0],[3,5],[3,5]]},
        "legend": {"title": null, "orient": "bottom-right", "symbolType": "M-1.8,0H1.8", "symbolSize": 64, "labelOffset": 7, "labelExpr": "datum.value === 'c0' ? 'ROC curve of class 0 (area = 0.98)' : datum.value === 'c1' ? 'ROC curve of class 1 (area = 0.95)' : datum.value === 'c2' ? 'ROC curve of class 2 (area = 0.98)' : datum.value === 'c3' ? 'ROC curve of class 3 (area = 0.99)' : datum.value === 'mi' ? 'micro-average ROC curve (area = 0.98)' : 'macro-average ROC curve (area = 0.98)'"}},
      "order": {"value": null}
    },
    "layer": [
      {"data": {"name": "diag"}, "mark": {"type": "line", "strokeWidth": 1.6}, "encoding": {"color": {"value": "black"}, "strokeDash": {"value": [6, 3.5]}}},
      {"data": {"name": "roc4"}, "transform": [{"filter": {"field": "s", "oneOf": ["c0","c1","c2","c3"]}}], "mark": {"type": "line", "strokeWidth": 1.5}, "encoding": {}},
      {"data": {"name": "roc4"}, "transform": [{"filter": {"field": "s", "oneOf": ["mi","ma"]}}], "mark": {"type": "line", "strokeWidth": 3.2}, "encoding": {}}
    ]
  },
  {
    "width": 261, "height": 195, "title": {"text": "XGBoost: Precision-Recall Curves"},
    "data": {"name": "pr1"},
    "encoding": {
      "x": {"field": "x", "type": "quantitative", "scale": {"domain": [0, 1]}, "axis": {"title": "Recall", "values": [0,0.2,0.4,0.6,0.8,1], "format": ".1f"}},
      "y": {"field": "y", "type": "quantitative", "scale": {"domain": [0, 1.05]}, "axis": {"title": "Precision", "values": [0,0.2,0.4,0.6,0.8,1], "format": ".1f"}},
      "color": {"field": "s", "type": "nominal", "scale": {"domain": ["c0","c1","c2","c3","mi"], "range": ["#000000","#1c86e8","#1fbf1f","#ffc81a","#000080"]},
        "legend": {"title": null, "orient": "bottom-left", "symbolType": "M-1.8,0H1.8", "symbolSize": 64, "labelOffset": 7, "labelExpr": "datum.value === 'c0' ? 'Precision-recall curve of class 0 (area = 0.992)' : datum.value === 'c1' ? 'Precision-recall curve of class 1 (area = 0.973)' : datum.value === 'c2' ? 'Precision-recall curve of class 2 (area = 0.962)' : datum.value === 'c3' ? 'Precision-recall curve of class 3 (area = 0.966)' : 'micro-average Precision-recall curve (area = 0.977)'"}},
      "strokeDash": {"field": "s", "type": "nominal", "scale": {"domain": ["c0","c1","c2","c3","mi"], "range": [[1,0],[1,0],[1,0],[1,0],[3,5]]},
        "legend": {"title": null, "orient": "bottom-left", "symbolType": "M-1.8,0H1.8", "symbolSize": 64, "labelOffset": 7, "labelExpr": "datum.value === 'c0' ? 'Precision-recall curve of class 0 (area = 0.992)' : datum.value === 'c1' ? 'Precision-recall curve of class 1 (area = 0.973)' : datum.value === 'c2' ? 'Precision-recall curve of class 2 (area = 0.962)' : datum.value === 'c3' ? 'Precision-recall curve of class 3 (area = 0.966)' : 'micro-average Precision-recall curve (area = 0.977)'"}},
      "order": {"value": null}
    },
    "layer": [
      {"transform": [{"filter": {"field": "s", "oneOf": ["c0","c1","c2","c3"]}}], "mark": {"type": "line", "strokeWidth": 1.5}, "encoding": {}},
      {"transform": [{"filter": {"field": "s", "oneOf": ["mi"]}}], "mark": {"type": "line", "strokeWidth": 3.2}, "encoding": {}}
    ]
  },
  {
    "width": 261, "height": 195, "title": {"text": "XGBoost: Precision-Recall Curves"},
    "data": {"name": "pr2"},
    "encoding": {
      "x": {"field": "x", "type": "quantitative", "scale": {"domain": [0, 1]}, "axis": {"title": "Recall", "values": [0,0.2,0.4,0.6,0.8,1], "format": ".1f"}},
      "y": {"field": "y", "type": "quantitative", "scale": {"domain": [0, 1.05]}, "axis": {"title": "Precision", "values": [0,0.2,0.4,0.6,0.8,1], "format": ".1f"}},
      "color": {"field": "s", "type": "nominal", "scale": {"domain": ["c0","c1","c2","c3","mi"], "range": ["#000000","#1c86e8","#1fbf1f","#ffc81a","#000080"]},
        "legend": {"title": null, "orient": "bottom-left", "symbolType": "M-1.8,0H1.8", "symbolSize": 64, "labelOffset": 7, "labelExpr": "datum.value === 'c0' ? 'Precision-recall curve of class 0 (area = 0.980)' : datum.value === 'c1' ? 'Precision-recall curve of class 1 (area = 0.958)' : datum.value === 'c2' ? 'Precision-recall curve of class 2 (area = 0.917)' : datum.value === 'c3' ? 'Precision-recall curve of class 3 (area = 0.922)' : 'micro-average Precision-recall curve (area = 0.949)'"}},
      "strokeDash": {"field": "s", "type": "nominal", "scale": {"domain": ["c0","c1","c2","c3","mi"], "range": [[1,0],[1,0],[1,0],[1,0],[3,5]]},
        "legend": {"title": null, "orient": "bottom-left", "symbolType": "M-1.8,0H1.8", "symbolSize": 64, "labelOffset": 7, "labelExpr": "datum.value === 'c0' ? 'Precision-recall curve of class 0 (area = 0.980)' : datum.value === 'c1' ? 'Precision-recall curve of class 1 (area = 0.958)' : datum.value === 'c2' ? 'Precision-recall curve of class 2 (area = 0.917)' : datum.value === 'c3' ? 'Precision-recall curve of class 3 (area = 0.922)' : 'micro-average Precision-recall curve (area = 0.949)'"}},
      "order": {"value": null}
    },
    "layer": [
      {"transform": [{"filter": {"field": "s", "oneOf": ["c0","c1","c2","c3"]}}], "mark": {"type": "line", "strokeWidth": 1.5}, "encoding": {}},
      {"transform": [{"filter": {"field": "s", "oneOf": ["mi"]}}], "mark": {"type": "line", "strokeWidth": 3.2}, "encoding": {}}
    ]
  },
  {
    "width": 261, "height": 195, "title": {"text": "XGBoost: Precision-Recall Curves"},
    "data": {"name": "pr3"},
    "encoding": {
      "x": {"field": "x", "type": "quantitative", "scale": {"domain": [0, 1]}, "axis": {"title": "Recall", "values": [0,0.2,0.4,0.6,0.8,1], "format": ".1f"}},
      "y": {"field": "y", "type": "quantitative", "scale": {"domain": [0, 1.05]}, "axis": {"title": "Precision", "values": [0,0.2,0.4,0.6,0.8,1], "format": ".1f"}},
      "color": {"field": "s", "type": "nominal", "scale": {"domain": ["c0","c1","c2","c3","mi"], "range": ["#000000","#1c86e8","#1fbf1f","#ffc81a","#000080"]},
        "legend": {"title": null, "orient": "bottom-left", "symbolType": "M-1.8,0H1.8", "symbolSize": 64, "labelOffset": 7, "labelExpr": "datum.value === 'c0' ? 'Precision-recall curve of class 0 (area = 0.970)' : datum.value === 'c1' ? 'Precision-recall curve of class 1 (area = 0.950)' : datum.value === 'c2' ? 'Precision-recall curve of class 2 (area = 0.938)' : datum.value === 'c3' ? 'Precision-recall curve of class 3 (area = 0.960)' : 'micro-average Precision-recall curve (area = 0.955)'"}},
      "strokeDash": {"field": "s", "type": "nominal", "scale": {"domain": ["c0","c1","c2","c3","mi"], "range": [[1,0],[1,0],[1,0],[1,0],[3,5]]},
        "legend": {"title": null, "orient": "bottom-left", "symbolType": "M-1.8,0H1.8", "symbolSize": 64, "labelOffset": 7, "labelExpr": "datum.value === 'c0' ? 'Precision-recall curve of class 0 (area = 0.970)' : datum.value === 'c1' ? 'Precision-recall curve of class 1 (area = 0.950)' : datum.value === 'c2' ? 'Precision-recall curve of class 2 (area = 0.938)' : datum.value === 'c3' ? 'Precision-recall curve of class 3 (area = 0.960)' : 'micro-average Precision-recall curve (area = 0.955)'"}},
      "order": {"value": null}
    },
    "layer": [
      {"transform": [{"filter": {"field": "s", "oneOf": ["c0","c1","c2","c3"]}}], "mark": {"type": "line", "strokeWidth": 1.5}, "encoding": {}},
      {"transform": [{"filter": {"field": "s", "oneOf": ["mi"]}}], "mark": {"type": "line", "strokeWidth": 3.2}, "encoding": {}}
    ]
  },
  {
    "width": 261, "height": 195, "title": {"text": "XGBoost: Precision-Recall Curves"},
    "data": {"name": "pr4"},
    "encoding": {
      "x": {"field": "x", "type": "quantitative", "scale": {"domain": [0, 1]}, "axis": {"title": "Recall", "values": [0,0.2,0.4,0.6,0.8,1], "format": ".1f"}},
      "y": {"field": "y", "type": "quantitative", "scale": {"domain": [0, 1.05]}, "axis": {"title": "Precision", "values": [0,0.2,0.4,0.6,0.8,1], "format": ".1f"}},
      "color": {"field": "s", "type": "nominal", "scale": {"domain": ["c0","c1","c2","c3","mi"], "range": ["#000000","#1c86e8","#1fbf1f","#ffc81a","#000080"]},
        "legend": {"title": null, "orient": "bottom-left", "symbolType": "M-1.8,0H1.8", "symbolSize": 64, "labelOffset": 7, "labelExpr": "datum.value === 'c0' ? 'Precision-recall curve of class 0 (area = 0.944)' : datum.value === 'c1' ? 'Precision-recall curve of class 1 (area = 0.886)' : datum.value === 'c2' ? 'Precision-recall curve of class 2 (area = 0.956)' : datum.value === 'c3' ? 'Precision-recall curve of class 3 (area = 0.980)' : 'micro-average Precision-recall curve (area = 0.942)'"}},
      "strokeDash": {"field": "s", "type": "nominal", "scale": {"domain": ["c0","c1","c2","c3","mi"], "range": [[1,0],[1,0],[1,0],[1,0],[3,5]]},
        "legend": {"title": null, "orient": "bottom-left", "symbolType": "M-1.8,0H1.8", "symbolSize": 64, "labelOffset": 7, "labelExpr": "datum.value === 'c0' ? 'Precision-recall curve of class 0 (area = 0.944)' : datum.value === 'c1' ? 'Precision-recall curve of class 1 (area = 0.886)' : datum.value === 'c2' ? 'Precision-recall curve of class 2 (area = 0.956)' : datum.value === 'c3' ? 'Precision-recall curve of class 3 (area = 0.980)' : 'micro-average Precision-recall curve (area = 0.942)'"}},
      "order": {"value": null}
    },
    "layer": [
      {"transform": [{"filter": {"field": "s", "oneOf": ["c0","c1","c2","c3"]}}], "mark": {"type": "line", "strokeWidth": 1.5}, "encoding": {}},
      {"transform": [{"filter": {"field": "s", "oneOf": ["mi"]}}], "mark": {"type": "line", "strokeWidth": 3.2}, "encoding": {}}
    ]
  }
]
}
